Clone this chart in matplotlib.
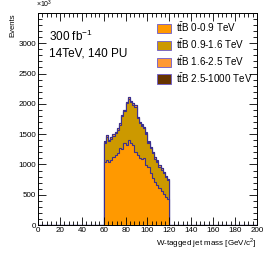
import matplotlib
matplotlib.use("Agg")
import matplotlib.pyplot as plt
import numpy as np
from matplotlib.patches import Patch
from matplotlib.ticker import MultipleLocator

plt.rcParams["font.family"] = ["Liberation Sans", "DejaVu Sans"]
plt.rcParams["mathtext.fontset"] = "custom"
plt.rcParams["mathtext.rm"] = "Liberation Sans"

# W-tagged jet mass, 2 GeV bins between 60 and 120 GeV/c^2
bin_lo = 60
bin_hi = 120
bin_width = 2

tt_0_09 = [1045, 1070, 1045, 1070, 1127, 1155, 1185, 1270, 1250, 1350,
           1320, 1400, 1350, 1320, 1210, 1155, 1100, 1090, 1100, 990,
           960, 860, 775, 715, 660, 610, 570, 520, 470, 430]
tt_09_16 = [311, 386, 341, 356, 349, 361, 391, 386, 546, 526,
            686, 686, 676, 666, 746, 611, 576, 546, 496, 516,
            396, 406, 411, 381, 386, 356, 346, 331, 316, 306]
tt_16_25 = [20, 22, 20, 21, 20, 22, 21, 20, 22, 21,
            22, 22, 21, 22, 21, 20, 20, 21, 20, 20,
            19, 20, 19, 20, 19, 18, 19, 18, 18, 18]
tt_25_1000 = [4, 4, 4, 4, 4, 4, 4, 4, 4, 4,
              4, 4, 4, 4, 4, 4, 4, 4, 4, 4,
              4, 4, 4, 4, 4, 4, 4, 4, 4, 4]

labels = [r"t$\bar{\mathrm{t}}$B 0-0.9 TeV", r"t$\bar{\mathrm{t}}$B 0.9-1.6 TeV",
          r"t$\bar{\mathrm{t}}$B 1.6-2.5 TeV", r"t$\bar{\mathrm{t}}$B 2.5-1000 TeV"]
colors = ["#ff9900", "#cc9900", "#ff9933", "#663300"]
line_col = "#3a2f8f"

edges = np.arange(0, 200 + bin_width, bin_width)
full = np.zeros(len(edges) - 1)
i0 = (bin_lo - 0) // bin_width

comps = [tt_0_09, tt_09_16, tt_16_25, tt_25_1000]
stack = []
running = np.zeros_like(full)
for c in comps:
    h = full.copy()
    h[i0:i0 + len(c)] = c
    running = running + h
    stack.append(running.copy())

fig = plt.figure(figsize=(2.70, 2.59), dpi=100)
ax = fig.add_axes([0.1407, 0.131, 0.811, 0.819])

# draw from the top of the stack down, like THStack
for cum, col in zip(stack[::-1], colors[::-1]):
    ax.stairs(cum, edges, fill=True, color=col, lw=0)
    ax.stairs(cum, edges, color=line_col, lw=0.8)

ax.set_xlim(0, 200)
ax.set_ylim(0, 3500)
ax.xaxis.set_major_locator(MultipleLocator(20))
ax.xaxis.set_minor_locator(MultipleLocator(4))
ax.yaxis.set_major_locator(MultipleLocator(500))
ax.yaxis.set_minor_locator(MultipleLocator(100))
ax.tick_params(which="both", direction="in", top=True, right=True,
               labelsize=5.8, width=0.6, pad=1.5)
ax.tick_params(which="major", length=6)
ax.tick_params(which="minor", length=3)
ax.set_yticks([0, 500, 1000, 1500, 2000, 2500, 3000])
for sp in ax.spines.values():
    sp.set_linewidth(0.7)

ax.set_xlabel(r"W-tagged jet mass [GeV/c$^{2}$]", fontsize=5.8, ha="right", x=1.0,
              labelpad=1)
fig.text(0.048, 0.95, "Events", rotation=90, ha="center", va="top", fontsize=5.5)
fig.text(0.135, 0.962, r"$\times$10$^{3}$", ha="left", va="bottom", fontsize=5)

ax.text(0.05, 0.89, r"300 fb$^{-1}$", transform=ax.transAxes, fontsize=8.5,
        va="center")
ax.text(0.05, 0.81, "14TeV, 140 PU", transform=ax.transAxes, fontsize=8.5,
        va="center")

handles = [Patch(facecolor=c, edgecolor="#6a5acd", lw=0.6) for c in colors]
ax.legend(handles, labels, loc="upper right", bbox_to_anchor=(1.015, 1.005),
          fontsize=7.1, frameon=False, handlelength=1.5, handleheight=1.1,
          handletextpad=0.45, labelspacing=0.3, borderpad=0.3)

fig.savefig("out.png", dpi=100)
